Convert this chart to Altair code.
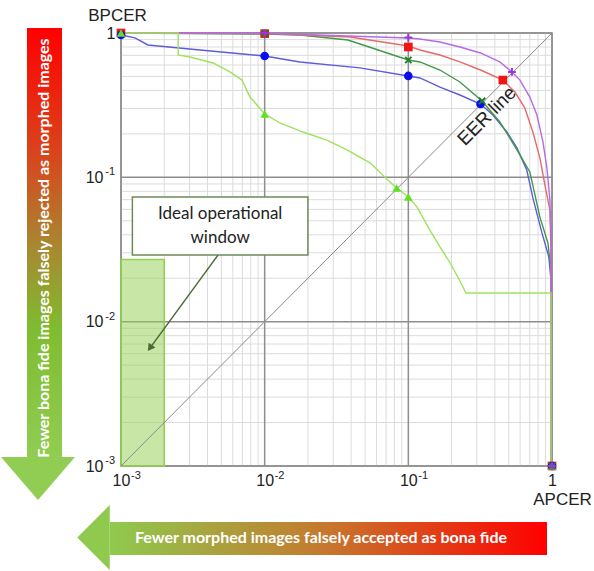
import altair as alt
import pandas as pd

# ---------------- data (APCER, BPCER) ----------------
blue_x = [0.001, 0.00125, 0.00154, 0.00355, 0.01, 0.0176, 0.046, 0.1, 0.1205, 0.166, 0.2285, 0.318, 0.388, 0.485, 0.570, 0.668, 0.736, 0.851, 0.95, 0.984, 0.984, 1.0]
blue_y = [0.969, 0.925, 0.826, 0.763, 0.693, 0.630, 0.573, 0.504, 0.488, 0.422, 0.372, 0.322, 0.270, 0.206, 0.160, 0.112, 0.072, 0.0412, 0.0282, 0.0194, 0.001, 0.001]

green_x = [0.001, 0.01, 0.0176, 0.038, 0.1, 0.1205, 0.166, 0.2285, 0.326, 0.4335, 0.509, 0.598, 0.701, 0.824, 0.937, 0.984, 0.984, 1.0]
green_y = [1.0, 0.984, 0.969, 0.894, 0.650, 0.630, 0.554, 0.458, 0.338, 0.242, 0.187, 0.143, 0.109, 0.053, 0.035, 0.0228, 0.001, 0.001]

red_x = [0.001, 0.01, 0.0392, 0.1, 0.1205, 0.166, 0.2285, 0.318, 0.455, 0.552, 0.647, 0.736, 0.824, 0.892, 0.967, 0.984, 0.984, 1.0]
red_y = [1.0, 0.992, 0.938, 0.813, 0.763, 0.704, 0.630, 0.554, 0.472, 0.390, 0.302, 0.206, 0.136, 0.0886, 0.0593, 0.0313, 0.001, 0.001]

purple_x = [0.001, 0.01, 0.1, 0.1205, 0.166, 0.2285, 0.318, 0.4335, 0.526, 0.598, 0.701, 0.785, 0.865, 0.922, 0.967, 0.984, 0.984, 1.0]
purple_y = [1.0, 0.995, 0.923, 0.909, 0.866, 0.80, 0.727, 0.630, 0.537, 0.472, 0.360, 0.270, 0.176, 0.116, 0.0696, 0.0368, 0.001, 0.001]

lime_x = [0.001, 0.0025, 0.0025, 0.00302, 0.00437, 0.00573, 0.00695, 0.0079, 0.00884, 0.01, 0.01276, 0.01847, 0.0271, 0.0374, 0.0541, 0.0745, 0.083, 0.1, 0.1148, 0.141, 0.166, 0.195, 0.221, 0.252, 0.984, 0.984, 1.0]
lime_y = [1.0, 1.0, 0.704, 0.682, 0.620, 0.537, 0.472, 0.360, 0.317, 0.275, 0.238, 0.206, 0.181, 0.155, 0.126, 0.093, 0.0843, 0.0731, 0.0625, 0.0433, 0.0330, 0.0256, 0.0204, 0.0158, 0.0158, 0.001, 0.001]

# operating-point markers
blue_mx = [0.001, 0.01, 0.1, 0.318, 1.0]
blue_my = [0.969, 0.693, 0.504, 0.322, 0.001]
red_mx = [0.001, 0.01, 0.1, 0.455, 1.0]
red_my = [1.0, 0.99, 0.80, 0.472, 0.001]
lime_mx = [0.001, 0.01, 0.083, 0.1, 1.0]
lime_my = [1.0, 0.275, 0.0843, 0.0731, 0.001]
green_mx = [0.01, 0.1, 0.326, 1.0]
green_my = [0.99, 0.650, 0.338, 0.001]
purple_mx = [0.01, 0.1, 0.526, 1.0]
purple_my = [1.0, 0.93, 0.537, 0.001]

major_ticks = [0.001, 0.01, 0.1, 1.0]
minor_ticks = [0.002, 0.003, 0.004, 0.005, 0.006, 0.007, 0.008, 0.009,
               0.02, 0.03, 0.04, 0.05, 0.06, 0.07, 0.08, 0.09,
               0.2, 0.3, 0.4, 0.5, 0.6, 0.7, 0.8, 0.9]
exp_ticks = [0.001, 0.01, 0.1]
exp_labels = ["-3", "-2", "-1"]

eer_x = [0.001, 1.0]
eer_y = [0.001, 1.0]

window_x = [0.001]; window_x2 = [0.002]; window_y = [0.001]; window_y2 = [0.027]
box_x = [0.0012]; box_x2 = [0.02]; box_y = [0.029]; box_y2 = [0.073]
box_text_x = [0.0049]; box_text_y = [0.0557]
pointer_x = [0.00473, 0.00159]; pointer_y = [0.0289, 0.00656]
eer_label_x = [0.352]; eer_label_y = [0.266]

# ---------------- tables ----------------
line_colors = {"blue": "#5c5cdc", "red": "#e56a6a", "green": "#3f9a45", "purple": "#b56ae6", "lime": "#9de35c"}
mark_colors = {"blue": "#0b0bee", "red": "#f01515", "green": "#1f7f2a", "purple": "#9a35e0", "lime": "#5fe020"}

rows = []
for name, xs_, ys_ in [("blue", blue_x, blue_y), ("green", green_x, green_y), ("red", red_x, red_y),
                       ("purple", purple_x, purple_y), ("lime", lime_x, lime_y)]:
    for i, (a, b) in enumerate(zip(xs_, ys_)):
        rows.append({"series": name, "i": i, "x": a, "y": b, "c": line_colors[name]})
curves = pd.DataFrame(rows)

frows = []
for name, shp, mx, my in [("red", "square", red_mx, red_my), ("blue", "circle", blue_mx, blue_my),
                          ("lime", "triangle-up", lime_mx, lime_my)]:
    for a, b in zip(mx, my):
        frows.append({"x": a, "y": b, "c": mark_colors[name], "s": shp})
filled_pts = pd.DataFrame(frows)
green_pts = pd.DataFrame({"x": green_mx, "y": green_my})
purple_pts = pd.DataFrame({"x": purple_mx, "y": purple_my})
exp_df = pd.DataFrame({"v": exp_ticks, "e": exp_labels})

one = pd.DataFrame({"a": [0]})

xs = alt.Scale(type="log", domain=[0.001, 1], nice=False)
ys = alt.Scale(type="log", domain=[0.001, 1], nice=False)

label_expr = "datum.value > 0.5 ? '1' : '10'"

x_axis = alt.Axis(values=major_ticks, labelExpr=label_expr, grid=False, ticks=False, domain=False,
                  labelFont="Liberation Sans", labelFontSize=16, labelColor="#222", labelPadding=6,
                  labelOverlap=False, labelBound=False, labelFlush=False,
                  title="APCER", titleFont="Liberation Sans", titleFontSize=17, titleFontWeight="normal",
                  titleColor="#222", titleAngle=0, titleX=441, titleY=33, titleAlign="center",
                  titleBaseline="middle")
y_axis = alt.Axis(values=major_ticks, labelExpr=label_expr, grid=False, ticks=False, domain=False,
                  labelFont="Liberation Sans", labelFontSize=16, labelColor="#222",
                  labelPadding={"condition": {"test": "datum.value > 0.5", "value": 6}, "value": 18},
                  labelOverlap=False, labelBound=False, labelFlush=False,
                  title="BPCER", titleFont="Liberation Sans", titleFontSize=17, titleFontWeight="normal",
                  titleColor="#222", titleAngle=0, titleX=-4, titleY=-18, titleAlign="center",
                  titleBaseline="middle")


def X(field):
    return alt.X(field, scale=xs, axis=x_axis)


def Y(field):
    return alt.Y(field, scale=ys, axis=y_axis)


minor_df = pd.DataFrame({"v": minor_ticks})
major_df = pd.DataFrame({"v": major_ticks})

gx_minor = alt.Chart(minor_df).mark_rule(color="#dcdcdc", strokeWidth=1).encode(x=X("v:Q"))
gy_minor = alt.Chart(minor_df).mark_rule(color="#dcdcdc", strokeWidth=1).encode(y=Y("v:Q"))
gx_major = alt.Chart(major_df).mark_rule(color="#8e8e8e", strokeWidth=1.5).encode(x=X("v:Q"))
gy_major = alt.Chart(major_df).mark_rule(color="#8e8e8e", strokeWidth=1.5).encode(y=Y("v:Q"))

x_exp = alt.Chart(exp_df).mark_text(font="Liberation Sans", fontSize=11, color="#222", align="left",
                                    baseline="middle", dx=10).encode(
    x=X("v:Q"), y=alt.value(443), text="e:N")
y_exp = alt.Chart(exp_df).mark_text(font="Liberation Sans", fontSize=11, color="#222", align="right",
                                    baseline="middle", dy=-5).encode(
    y=Y("v:Q"), x=alt.value(-6), text="e:N")

window = alt.Chart(pd.DataFrame({"x": window_x, "x2": window_x2, "y": window_y, "y2": window_y2})).mark_rect(
    fill="#92d050", fillOpacity=0.5, stroke="#92d050", strokeWidth=1.5).encode(
    x=X("x:Q"), x2="x2:Q", y=Y("y:Q"), y2="y2:Q")

eer = alt.Chart(pd.DataFrame({"x": eer_x, "y": eer_y})).mark_line(color="#8a8a8a", strokeWidth=1).encode(
    x=X("x:Q"), y=Y("y:Q"))

lines = alt.Chart(curves).mark_line(strokeWidth=1.4).encode(
    x=X("x:Q"), y=Y("y:Q"),
    color=alt.Color("c:N", scale=None), detail="series:N", order=alt.Order("i:Q"))

filled = alt.Chart(filled_pts).mark_point(filled=True, opacity=1, size=75).encode(
    x=X("x:Q"), y=Y("y:Q"),
    color=alt.Color("c:N", scale=None), shape=alt.Shape("s:N", scale=None))

crosses = alt.Chart(green_pts).mark_point(shape="M -1 -1 L 1 1 M -1 1 L 1 -1", filled=False,
                                          color=mark_colors["green"], strokeWidth=2, size=40, opacity=1).encode(
    x=X("x:Q"), y=Y("y:Q"))
pluses = alt.Chart(purple_pts).mark_point(shape="M -1 0 L 1 0 M 0 -1 L 0 1", filled=False,
                                          color=mark_colors["purple"], strokeWidth=2, size=60, opacity=1).encode(
    x=X("x:Q"), y=Y("y:Q"))

box = alt.Chart(pd.DataFrame({"x": box_x, "x2": box_x2, "y": box_y, "y2": box_y2})).mark_rect(
    fill="white", stroke="#6e8a58", strokeWidth=1.5).encode(
    x=X("x:Q"), x2="x2:Q", y=Y("y:Q"), y2="y2:Q")
box_text = alt.Chart(pd.DataFrame({"x": box_text_x, "y": box_text_y})).mark_text(
    text=["Ideal operational", "window"], font="Lato", fontSize=17, lineHeight=24, color="#222",
    align="center", baseline="middle").encode(x=X("x:Q"), y=Y("y:Q"))
pointer = alt.Chart(pd.DataFrame({"x": pointer_x, "y": pointer_y})).mark_line(
    color="#4d6a35", strokeWidth=1.5).encode(x=X("x:Q"), y=Y("y:Q"))
pointer_head = alt.Chart(pd.DataFrame({"x": pointer_x[1:], "y": pointer_y[1:]})).mark_point(
    shape="triangle-up", angle=216, filled=True, color="#4d6a35", size=70, opacity=1).encode(
    x=X("x:Q"), y=Y("y:Q"))

eer_text = alt.Chart(pd.DataFrame({"x": eer_label_x, "y": eer_label_y})).mark_text(
    text="EER line", font="Liberation Sans", fontSize=19, angle=315, color="#222",
    align="center", baseline="middle").encode(x=X("x:Q"), y=Y("y:Q"))

# ---------------- gradient arrows outside the plot ----------------
v_grad = alt.LinearGradient(gradient="linear", x1=0, x2=0, y1=0, y2=1, stops=[
    alt.GradientStop(color="#ff0000", offset=0),
    alt.GradientStop(color="#d8461c", offset=0.3),
    alt.GradientStop(color="#aa8530", offset=0.5),
    alt.GradientStop(color="#7fbc2f", offset=0.7),
    alt.GradientStop(color="#91cd52", offset=1)])
h_grad = alt.LinearGradient(gradient="linear", x1=0, x2=1, y1=0, y2=0, stops=[
    alt.GradientStop(color="#8fca4e", offset=0),
    alt.GradientStop(color="#c6772d", offset=0.5),
    alt.GradientStop(color="#ff0000", offset=1)])

v_shaft = alt.Chart(one).mark_rect(fill=v_grad).encode(
    x=alt.value(-94), x2=alt.value(-59), y=alt.value(-5), y2=alt.value(424))
v_head = alt.Chart(one).mark_point(shape="M -1 -0.58 L 1 -0.58 L 0 0.58 Z", filled=True,
                                   color="#91cd52", size=5476, opacity=1, strokeWidth=0).encode(
    x=alt.value(-83), y=alt.value(445.5))
v_text = alt.Chart(one).mark_text(text="Fewer bona fide images falsely rejected as morphed images",
                                  font="Lato", fontSize=16, fontWeight="bold", angle=270, color="white",
                                  align="center", baseline="middle").encode(
    x=alt.value(-77), y=alt.value(215))

h_shaft = alt.Chart(one).mark_rect(fill=h_grad).encode(
    x=alt.value(-11), x2=alt.value(426), y=alt.value(489), y2=alt.value(522))
h_head = alt.Chart(one).mark_point(shape="M 0.5 -1 L 0.5 1 L -0.5 0 Z", filled=True,
                                   color="#8fca4e", size=4225, opacity=1, strokeWidth=0).encode(
    x=alt.value(-27.5), y=alt.value(504.5))
h_text = alt.Chart(one).mark_text(text="Fewer morphed images falsely accepted as bona fide",
                                  font="Lato", fontSize=16, fontWeight="bold", color="white",
                                  align="center", baseline="middle").encode(
    x=alt.value(200), y=alt.value(505))

chart = alt.layer(
    gx_minor, gy_minor, gx_major, gy_major, window, eer, lines, filled, crosses, pluses,
    box, pointer, pointer_head, box_text, eer_text, x_exp, y_exp,
    v_shaft, v_head, v_text, h_shaft, h_head, h_text
).properties(
    width=431, height=433,
    autosize=alt.AutoSizeParams(type="none"),
    padding={"left": 121, "top": 33, "right": 42, "bottom": 105},
    background="white"
).configure_view(stroke="#8e8e8e", strokeWidth=1.5)

chart.save("out.html", embed_options={"renderer": "svg", "actions": False})
